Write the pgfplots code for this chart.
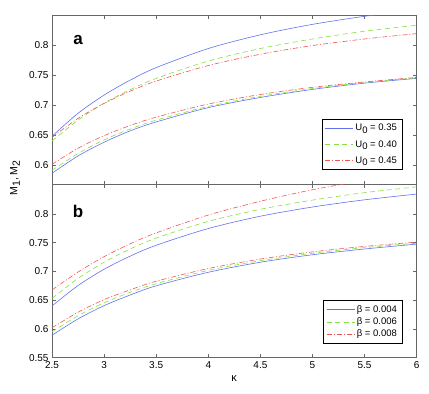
\documentclass[border=0pt]{standalone}
\usepackage{pgfplots}
\pgfplotsset{compat=1.18}
\usepackage{fontspec}
\setmainfont{Liberation Sans}

\definecolor{mblue}{RGB}{95,115,240}
\definecolor{mgreen}{RGB}{135,225,60}
\definecolor{mred}{RGB}{240,85,85}

\pgfplotsset{
  panel/.style={
    scale only axis, width=364.7pt,
    xmin=2.5, xmax=6,
    xtick={2.5,3,3.5,4,4.5,5,5.5,6},
    tick align=inside, major tick length=3.5pt,
    axis line style={black!60, line width=0.9pt},
    tick style={black!60, line width=0.6pt},
    tick label style={font=\fontsize{10}{12}\selectfont},
    /pgf/number format/assume math mode=true,
    /pgf/number format/fixed,
    every axis plot/.append style={line width=0.6pt, smooth},
    legend cell align=left,
    legend image code/.code={\draw[##1,sharp plot] (0pt,0pt) -- (28pt,0pt);},
    legend style={draw=black, line width=0.6pt, font=\fontsize{9.5}{11}\selectfont,
      at={(1,0)}, anchor=south east, xshift=-14.5pt, yshift=14pt,
      inner xsep=3pt, inner ysep=3pt},
  },
  sb/.style={mblue, solid},
  sg/.style={mgreen, dash pattern=on 5pt off 3.5pt},
  sr/.style={mred, dash pattern=on 5pt off 2pt on 1pt off 2pt},
}

\begin{document}
\begin{tikzpicture}
\useasboundingbox (0,0) rectangle (429pt,-394pt);

% panel a
\begin{axis}[panel, at={(52pt,-184pt)}, anchor=south west, height=168.3pt,
  ymin=0.568, ymax=0.85, ytick={0.6,0.65,0.7,0.75,0.8},
  xticklabels={},
  legend style={row sep=4pt}]
\addplot[sb] coordinates {(2.5,0.648) (2.75,0.6865) (3,0.717) (3.25,0.742) (3.5,0.763) (4,0.795) (4.5,0.818) (5,0.8355) (5.5,0.849) (6,0.860)};
\addlegendentry{U\raisebox{-0.45ex}{0} = 0.35}
\addplot[sg] coordinates {(2.5,0.640) (2.75,0.675) (3,0.7035) (3.25,0.726) (3.5,0.745) (4,0.774) (4.5,0.795) (5,0.811) (5.5,0.824) (6,0.834)};
\addlegendentry{U\raisebox{-0.45ex}{0} = 0.40}
\addplot[sr] coordinates {(2.5,0.646) (2.75,0.678) (3,0.703) (3.25,0.7235) (3.5,0.7405) (4,0.7665) (4.5,0.7855) (5,0.800) (5.5,0.811) (6,0.820)};
\addlegendentry{U\raisebox{-0.45ex}{0} = 0.45}
\addplot[sb, forget plot] coordinates {(2.5,0.586) (2.75,0.615) (3,0.638) (3.25,0.657) (3.5,0.672) (4,0.696) (4.5,0.713) (5,0.7265) (5.5,0.737) (6,0.745)};
\addplot[sg, forget plot] coordinates {(2.5,0.591) (2.75,0.619) (3,0.642) (3.25,0.660) (3.5,0.675) (4,0.698) (4.5,0.715) (5,0.728) (5.5,0.738) (6,0.746)};
\addplot[sr, forget plot] coordinates {(2.5,0.601) (2.75,0.628) (3,0.649) (3.25,0.666) (3.5,0.680) (4,0.702) (4.5,0.718) (5,0.730) (5.5,0.739) (6,0.7466)};
\node[font=\fontsize{17}{20}\selectfont\bfseries] at (axis cs:2.75,0.81) {a};
\end{axis}

% panel b
\begin{axis}[panel, at={(52pt,-357.7pt)}, anchor=south west, height=173.7pt,
  ymin=0.55, ymax=0.852, ytick={0.55,0.6,0.65,0.7,0.75,0.8},
  legend style={row sep=0pt}]
\addplot[sb] coordinates {(2.5,0.640) (2.75,0.6755) (3,0.7037) (3.25,0.7266) (3.5,0.7455) (4,0.7746) (4.5,0.796) (5,0.812) (5.5,0.8245) (6,0.8345)};
\addlegendentry{β = 0.004}
\addplot[sg] coordinates {(2.5,0.653) (2.75,0.688) (3,0.716) (3.25,0.739) (3.5,0.758) (4,0.787) (4.5,0.808) (5,0.824) (5.5,0.837) (6,0.847)};
\addlegendentry{β = 0.006}
\addplot[sr] coordinates {(2.5,0.6676) (2.75,0.699) (3,0.7257) (3.25,0.748) (3.5,0.767) (4,0.798) (4.5,0.822) (5,0.842) (5.5,0.858) (6,0.871)};
\addlegendentry{β = 0.008}
\addplot[sb, forget plot] coordinates {(2.5,0.589) (2.75,0.6175) (3,0.6405) (3.25,0.659) (3.5,0.675) (4,0.6985) (4.5,0.716) (5,0.729) (5.5,0.739) (6,0.7475)};
\addplot[sg, forget plot] coordinates {(2.5,0.595) (2.75,0.623) (3,0.6455) (3.25,0.6637) (3.5,0.6787) (4,0.7018) (4.5,0.7186) (5,0.7315) (5.5,0.7414) (6,0.749)};
\addplot[sr, forget plot] coordinates {(2.5,0.602) (2.75,0.629) (3,0.651) (3.25,0.668) (3.5,0.683) (4,0.705) (4.5,0.7215) (5,0.734) (5.5,0.7435) (6,0.751)};
\node[font=\fontsize{17}{20}\selectfont\bfseries] at (axis cs:2.75,0.804) {b};
\end{axis}

\node[rotate=90, font=\fontsize{10.5}{12}\selectfont] at (15pt,-178pt) {M\raisebox{-0.45ex}{1}, M\raisebox{-0.45ex}{2}};
\node[font=\fontsize{11}{13}\selectfont] at (234pt,-379pt) {κ};
\end{tikzpicture}
\end{document}
